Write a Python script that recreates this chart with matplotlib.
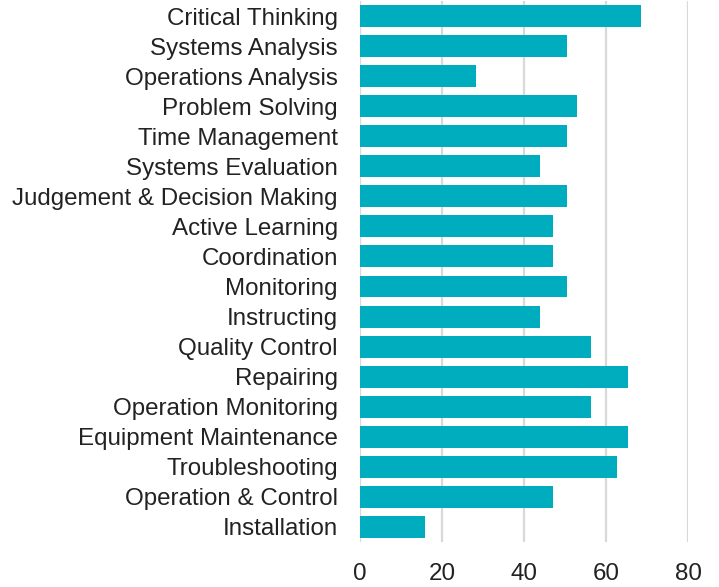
import matplotlib
matplotlib.use("Agg")
import matplotlib.pyplot as plt

# skills, top to bottom as shown
skills = ["Critical Thinking", "Systems Analysis", "Operations Analysis",
          "Problem Solving", "Time Management", "Systems Evaluation",
          "Judgement & Decision Making", "Active Learning", "Coordination",
          "Monitoring", "Instructing", "Quality Control", "Repairing",
          "Operation Monitoring", "Equipment Maintenance", "Troubleshooting",
          "Operation & Control", "Installation"]
values = [68.5, 50.5, 28.3, 52.9, 50.5, 43.9, 50.5, 47.1, 47.1,
          50.5, 43.9, 56.3, 65.4, 56.3, 65.4, 62.7, 47.1, 15.9]
xticks = [0, 20, 40, 60, 80]

plt.rcParams['font.family'] = ['Liberation Sans', 'DejaVu Sans']

fig = plt.figure(figsize=(7.19, 5.87), dpi=100)
ax = fig.add_axes([0.5007, 0.0767, 0.4565, 0.9216])

pos = list(range(len(skills)))[::-1]
ax.barh(pos, values, height=0.73, color="#00ADBE", zorder=3)

ax.set_xlim(0, 80)
ax.set_ylim(-0.5, len(skills) - 0.5)
ax.set_xticks(xticks)
ax.set_yticks(pos)
ax.set_yticklabels(skills)
ax.xaxis.grid(True, color="#D9D9D9", linewidth=1.6, zorder=0)
ax.set_axisbelow(True)
for s in ax.spines.values():
    s.set_visible(False)
ax.tick_params(axis="y", length=0, pad=16, labelsize=17.4, labelcolor="#222222")
ax.tick_params(axis="x", length=0, pad=15, labelsize=17.4, labelcolor="#222222")

fig.savefig("out.png", dpi=100)
